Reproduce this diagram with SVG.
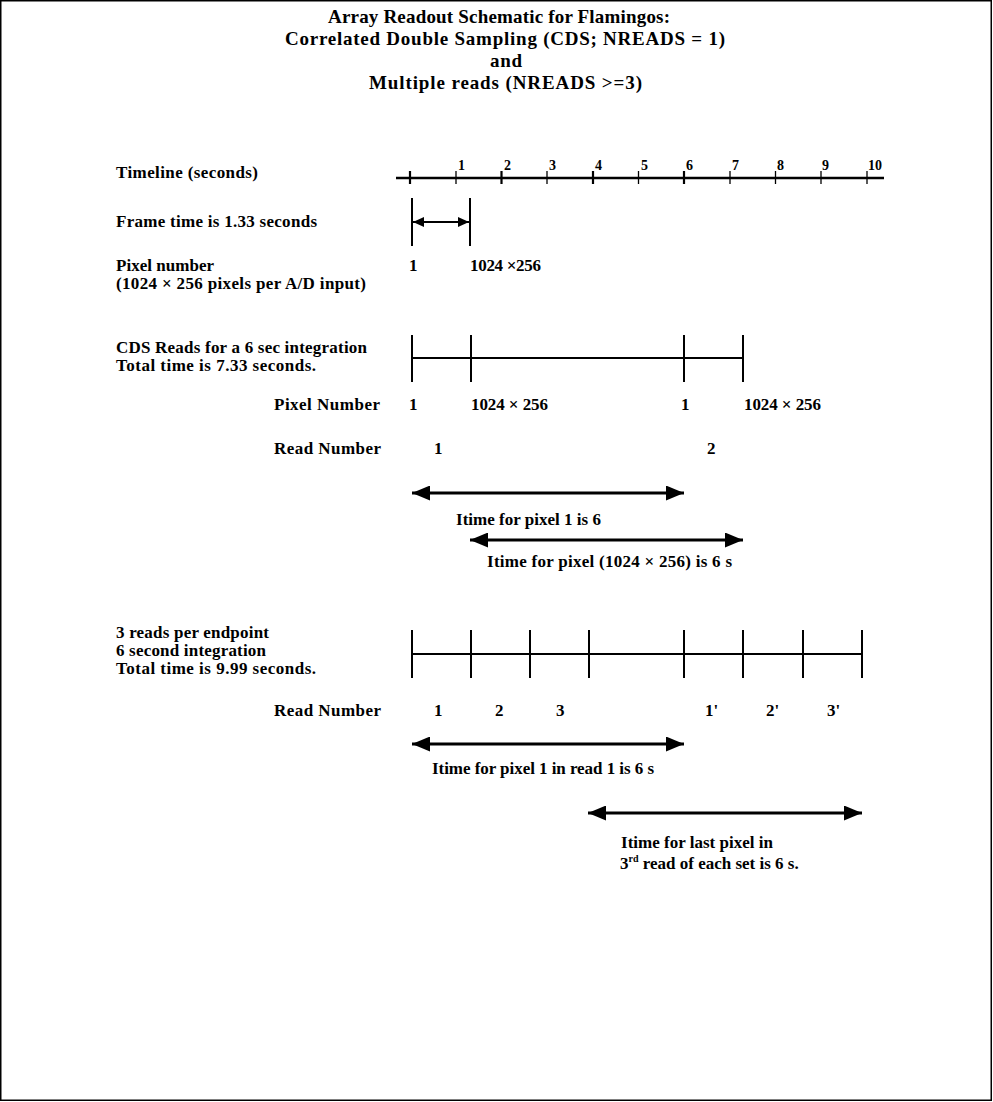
<svg xmlns="http://www.w3.org/2000/svg" width="993" height="1102" viewBox="0 0 993 1102">
<style>
text{font-family:"Liberation Serif","Times New Roman",serif;font-weight:bold;fill:#000;}
.t{font-size:19px;}
.l{font-size:17px;}
.n{font-size:14px;}
.bar{stroke:#000;stroke-width:2;fill:none;}
.axis{stroke:#000;stroke-width:2.5;fill:none;}
.tk{stroke:#000;stroke-width:1.3;}
.tkb{stroke:#000;stroke-width:2.2;}
.arr{stroke:#000;stroke-width:3;fill:none;marker-start:url(#ah);marker-end:url(#ah);}
.arrs{stroke:#000;stroke-width:2;fill:none;marker-start:url(#ahs);marker-end:url(#ahs);}
</style>
<defs>
<marker id="ah" markerUnits="userSpaceOnUse" markerWidth="19" markerHeight="15" refX="18" refY="7.5" orient="auto-start-reverse"><path d="M0,0 L18,7.5 L0,15 z" fill="#000"/></marker>
<marker id="ahs" markerUnits="userSpaceOnUse" markerWidth="12" markerHeight="10" refX="11" refY="5" orient="auto-start-reverse"><path d="M0,0 L11,5 L0,10 z" fill="#000"/></marker>
</defs>
<rect x="0.75" y="0.75" width="990.5" height="1099.5" fill="#fff" stroke="#000" stroke-width="1.5"/>

<g id="title">
<text class="t" x="328" y="23" textLength="342" lengthAdjust="spacing">Array Readout Schematic for Flamingos:</text>
<text class="t" x="285" y="45" textLength="440" lengthAdjust="spacing">Correlated Double Sampling (CDS; NREADS = 1)</text>
<text class="t" x="490" y="67" textLength="32" lengthAdjust="spacing">and</text>
<text class="t" x="369" y="89" textLength="273" lengthAdjust="spacing">Multiple reads (NREADS &gt;=3)</text>
</g>

<g id="timeline">
<text class="l" x="116" y="178" textLength="142" lengthAdjust="spacing">Timeline (seconds)</text>
<line class="axis" x1="396" y1="178" x2="884" y2="178"/>
<line class="tkb" x1="410" y1="171" x2="410" y2="184"/>
<line class="tk" x1="456" y1="171" x2="456" y2="184"/>
<line class="tkb" x1="501.5" y1="171" x2="501.5" y2="184"/>
<line class="tk" x1="547" y1="171" x2="547" y2="184"/>
<line class="tkb" x1="593" y1="171" x2="593" y2="184"/>
<line class="tk" x1="638.5" y1="171" x2="638.5" y2="184"/>
<line class="tkb" x1="684" y1="171" x2="684" y2="184"/>
<line class="tk" x1="730" y1="171" x2="730" y2="184"/>
<line class="tk" x1="775.5" y1="171" x2="775.5" y2="184"/>
<line class="tk" x1="821" y1="171" x2="821" y2="184"/>
<line class="tk" x1="867" y1="171" x2="867" y2="184"/>
<text class="n" x="458" y="170">1</text>
<text class="n" x="504" y="170">2</text>
<text class="n" x="549" y="170">3</text>
<text class="n" x="595" y="170">4</text>
<text class="n" x="641" y="170">5</text>
<text class="n" x="686" y="170">6</text>
<text class="n" x="732" y="170">7</text>
<text class="n" x="777" y="170">8</text>
<text class="n" x="822" y="170">9</text>
<text class="n" x="868" y="170">10</text>
</g>

<g id="frame">
<text class="l" x="116" y="227" textLength="201" lengthAdjust="spacing">Frame time is 1.33 seconds</text>
<line class="bar" x1="412" y1="198" x2="412" y2="246"/>
<line class="bar" x1="470" y1="198" x2="470" y2="246"/>
<text class="l" x="116" y="271" textLength="98" lengthAdjust="spacing">Pixel number</text>
<text class="l" x="116" y="289" textLength="250" lengthAdjust="spacing">(1024 × 256 pixels per A/D input)</text>
<text class="l" x="409" y="271">1</text>
<text class="l" x="470" y="271" textLength="71" lengthAdjust="spacing">1024 ×256</text>
</g>

<g id="cds">
<text class="l" x="116" y="353" textLength="251" lengthAdjust="spacing">CDS Reads for a 6 sec integration</text>
<text class="l" x="116" y="371" textLength="200" lengthAdjust="spacing">Total time is 7.33 seconds.</text>
<line class="bar" x1="412" y1="335" x2="412" y2="382"/>
<line class="bar" x1="471" y1="335" x2="471" y2="382"/>
<line class="bar" x1="684" y1="335" x2="684" y2="382"/>
<line class="bar" x1="743" y1="335" x2="743" y2="382"/>
<line class="bar" x1="412" y1="358" x2="743" y2="358"/>
<text class="l" x="274" y="410" textLength="106" lengthAdjust="spacing">Pixel Number</text>
<text class="l" x="409" y="410">1</text>
<text class="l" x="471" y="410" textLength="77" lengthAdjust="spacing">1024 × 256</text>
<text class="l" x="681" y="410">1</text>
<text class="l" x="744" y="410" textLength="77" lengthAdjust="spacing">1024 × 256</text>
<text class="l" x="274" y="454" textLength="107" lengthAdjust="spacing">Read Number</text>
<text class="l" x="434" y="454">1</text>
<text class="l" x="707" y="454">2</text>
<text class="l" x="456" y="525" textLength="145" lengthAdjust="spacing">Itime for pixel 1 is 6</text>
<text class="l" x="487" y="567" textLength="245" lengthAdjust="spacing">Itime for pixel (1024 × 256) is 6 s</text>
</g>

<g id="multi">
<text class="l" x="116" y="638" textLength="153" lengthAdjust="spacing">3 reads per endpoint</text>
<text class="l" x="116" y="656" textLength="150" lengthAdjust="spacing">6 second integration</text>
<text class="l" x="116" y="674" textLength="200" lengthAdjust="spacing">Total time is 9.99 seconds.</text>
<line class="bar" x1="412" y1="630" x2="412" y2="678"/>
<line class="bar" x1="471" y1="630" x2="471" y2="678"/>
<line class="bar" x1="530" y1="630" x2="530" y2="678"/>
<line class="bar" x1="589" y1="630" x2="589" y2="678"/>
<line class="bar" x1="684" y1="630" x2="684" y2="678"/>
<line class="bar" x1="743" y1="630" x2="743" y2="678"/>
<line class="bar" x1="803" y1="630" x2="803" y2="678"/>
<line class="bar" x1="862" y1="630" x2="862" y2="678"/>
<line class="bar" x1="412" y1="654" x2="862" y2="654"/>
<text class="l" x="274" y="716" textLength="107" lengthAdjust="spacing">Read Number</text>
<text class="l" x="434" y="716">1</text>
<text class="l" x="495" y="716">2</text>
<text class="l" x="556" y="716">3</text>
<text class="l" x="705" y="716">1'</text>
<text class="l" x="766" y="716">2'</text>
<text class="l" x="827" y="716">3'</text>
<text class="l" x="432" y="774" textLength="222" lengthAdjust="spacing">Itime for pixel 1 in read 1 is 6 s</text>
<text class="l" x="621" y="848" textLength="152" lengthAdjust="spacing">Itime for last pixel in</text>
<text class="l" x="620" y="869">3<tspan font-size="10" dy="-7">rd</tspan><tspan dy="7"> read of each set is 6 s.</tspan></text>
</g>

<g id="connectors">
<line class="arrs" x1="413" y1="222" x2="469" y2="222"/>
<line class="arr" x1="412" y1="493" x2="684" y2="493"/>
<line class="arr" x1="470" y1="540" x2="743" y2="540"/>
<line class="arr" x1="412" y1="744" x2="684" y2="744"/>
<line class="arr" x1="588" y1="813" x2="862" y2="813"/>
</g>
</svg>
